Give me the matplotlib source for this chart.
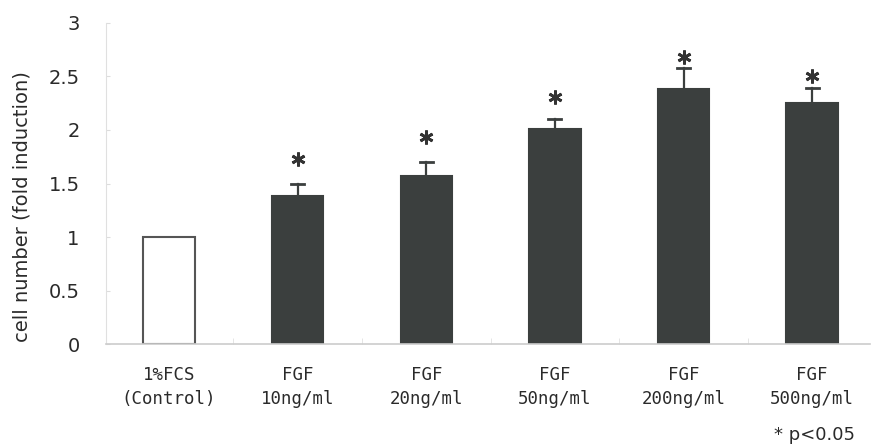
import numpy as np
import matplotlib
matplotlib.use("Agg")
import matplotlib.pyplot as plt

# values
groups = ["1%FCS\n(Control)", "FGF\n10ng/ml", "FGF\n20ng/ml", "FGF\n50ng/ml",
          "FGF\n200ng/ml", "FGF\n500ng/ml"]
means = [1.0, 1.38, 1.57, 2.01, 2.38, 2.25]
errors = [0.0, 0.12, 0.13, 0.09, 0.20, 0.14]
significant = [False, True, True, True, True, True]
star_heights = [0, 1.73, 1.93, 2.31, 2.68, 2.50]
yticks = [0, 0.5, 1, 1.5, 2, 2.5, 3]
ytick_labels = ["0", "0.5", "1", "1.5", "2", "2.5", "3"]

dark = "#3b3f3e"
text_col = "#2a2a2a"

fig = plt.figure(figsize=(8.73, 4.48), dpi=100)
ax = fig.add_axes([0.1214, 0.2321, 0.8752, 0.7166])

x = np.arange(len(groups))
colors = ["white" if not s else dark for s in significant]
ax.bar(x, means, width=0.4, color=colors, edgecolor=["#555555"] + [dark] * 5,
       linewidth=1.5, zorder=2)

# upper error bars only
for xi, m, e in zip(x, means, errors):
    if e > 0:
        ax.plot([xi, xi], [m, m + e], color=dark, lw=1.6, zorder=1)
        ax.plot([xi - 0.05, xi + 0.05], [m + e, m + e], color=dark, lw=2, zorder=1)

for xi, s, h in zip(x, significant, star_heights):
    if s:
        ax.plot(xi, h, marker=(6, 2, 0), markersize=10, mew=2, color="#333333",
                linestyle="none")

ax.set_xlim(-0.49, 5.45)
ax.set_ylim(0, 3)
ax.set_yticks(yticks)
ax.set_yticklabels(ytick_labels, fontsize=14, color=text_col)
ax.set_xticks(x)
ax.set_xticklabels(groups, fontsize=12.5, family="DejaVu Sans Mono",
                   color=text_col, linespacing=1.4)
ax.tick_params(axis="x", length=0, pad=16)
ax.tick_params(axis="y", length=3, color="#dddddd", direction="in", pad=19)
ax.set_xticks(x[:-1] + 0.5, minor=True)
ax.tick_params(axis="x", which="minor", length=4, color="#e0e0e0", direction="in")

for side in ["top", "right"]:
    ax.spines[side].set_visible(False)
ax.spines["left"].set_color("#e0e0e0")
ax.spines["bottom"].set_color("#cccccc")
ax.spines["bottom"].set_linewidth(1.2)

fig.text(0.025, 0.538, "cell number (fold induction)",
         rotation=90, ha="center", va="center", fontsize=14, color=text_col)
fig.text(0.887, 0.028, "* p<0.05", ha="left", va="center", fontsize=13,
         color=text_col)

fig.savefig("out.png", dpi=100)
